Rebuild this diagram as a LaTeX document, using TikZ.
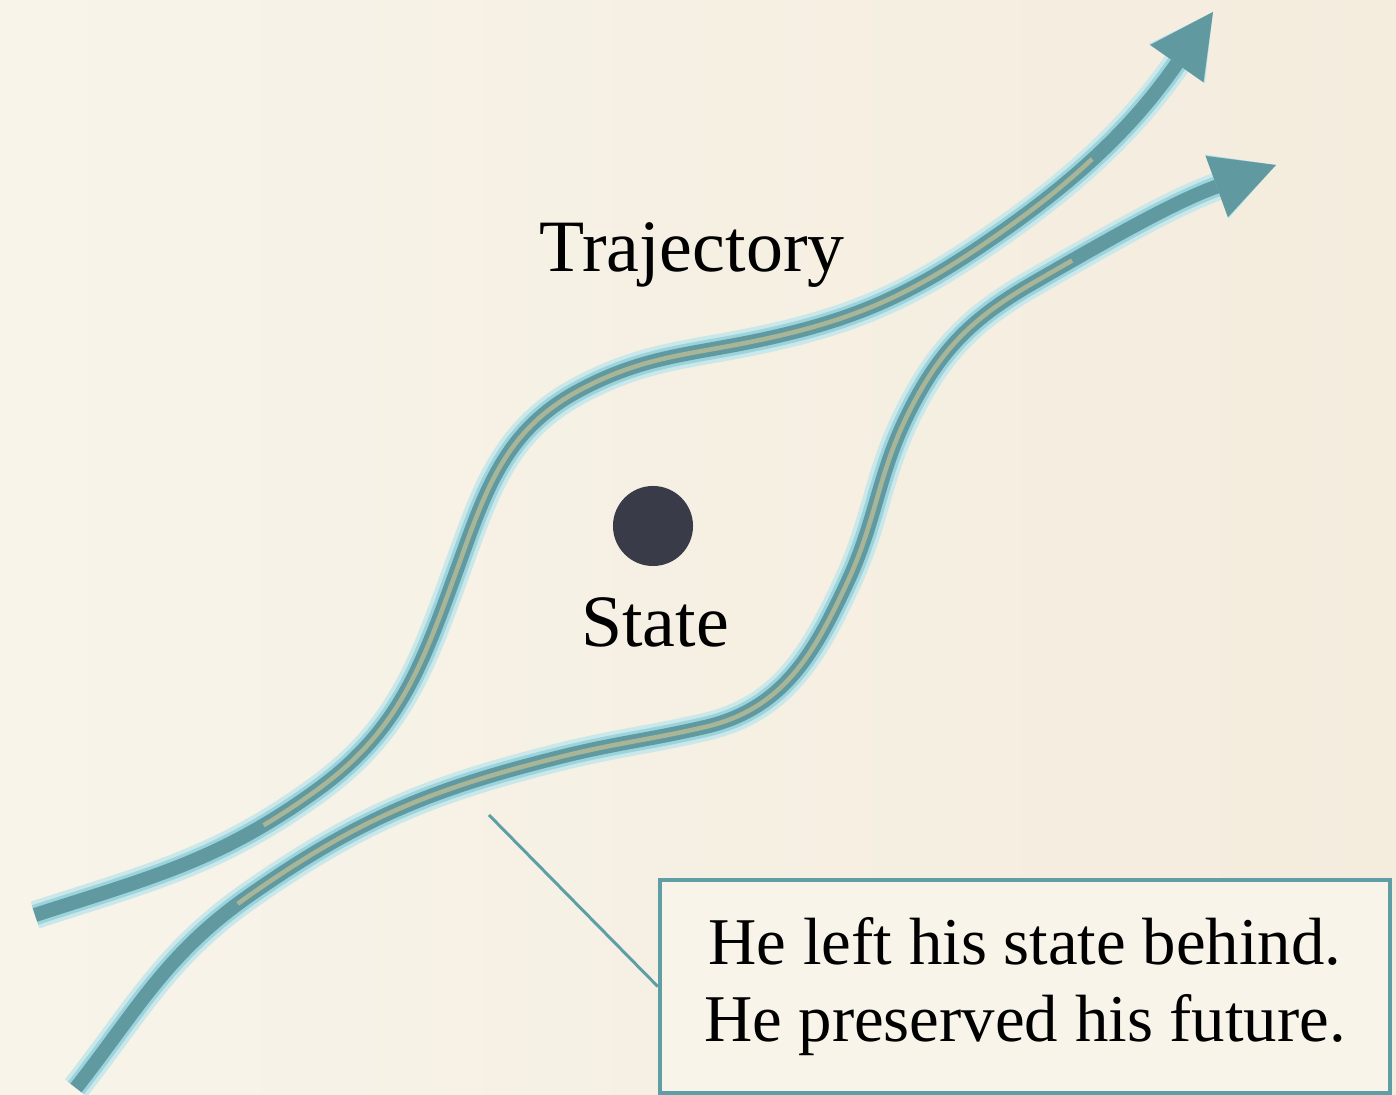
\documentclass[tikz,border=0pt]{standalone}
\usepackage{fontspec}
\setmainfont{Liberation Serif}
\usetikzlibrary{positioning}
\usetikzlibrary{arrows.meta}
\definecolor{paper}{RGB}{248,244,234}
\definecolor{paperwarm}{RGB}{244,236,221}
\definecolor{tracktealc}{RGB}{96,153,160}
\definecolor{trackglowc}{RGB}{156,212,222}
\definecolor{trackhaloc}{RGB}{202,232,233}
\definecolor{trackstripec}{RGB}{168,181,150}
\definecolor{notebord}{RGB}{96,158,166}
\definecolor{dotgray}{RGB}{58,59,73}

\begin{document}
\begin{tikzpicture}[x=0.01cm,y=0.01cm,font=\fontsize{21}{25}\selectfont,
	trackhalo/.style={line width=8pt,draw=trackhaloc,line join=round,-{Triangle[length=6.3mm,width=6.5mm,line width=3.6pt]}},
	trackglow/.style={line width=5.8pt,draw=trackglowc,line join=round,-{Triangle[length=6.3mm,width=6.5mm,line width=1.6pt]}},
	trackbody/.style={line width=4pt,draw=tracktealc,-{Triangle[length=6.3mm,width=6.5mm,line width=0pt]}},
	trackstripe/.style={line width=1.3pt,draw=trackstripec,dash pattern=on 0pt off 70pt on 320pt off 2000pt}]
	\fill[left color=paper,right color=paperwarm] (0,0) rectangle (1396,-1095);
	\useasboundingbox (0,0) rectangle (1396,-1095);

	\foreach \layer in {trackhalo,trackglow,trackbody,trackstripe} {
		\draw[\layer] (35,-915) to[out=18,in=216] (317,-790) to[out=36,in=-110] (455,-575)
			to[out=70,in=208] (580,-390) to[out=28,in=192] (760,-340) to[out=12,in=215] (1000,-233)
			to[out=35,in=235] (1213,-12);
		\draw[\layer] (76,-1088) to[out=52,in=215] (250,-895) to[out=35,in=194] (560,-757)
			to[out=14,in=193] (705,-727) to[out=13,in=245] (847,-583) to[out=65,in=243] (910,-410)
			to[out=63,in=210] (1033,-283) to[out=30,in=200] (1276,-165);
	}

	\node [anchor=base] at (692,-272) (traj_label) {Trajectory};
	\node [circle,fill=dotgray,minimum size=0.8cm,inner sep=0pt] at (653,-526) (state_dot) {};
	\node [anchor=base] at (655,-647) (state_label) {State};

	\node [draw=notebord,line width=1.15pt,fill=paper,minimum width=7.3cm,minimum height=2.13cm,align=center,font=\fontsize{19}{22}\selectfont] at (1025,-986.5) (note) {He left his state behind.\\He preserved his future.};
	\coordinate (note_tip) at (489,-815);
	\draw [notebord,line width=0.85pt] (note_tip) -- (note.west);
\end{tikzpicture}
\end{document}
